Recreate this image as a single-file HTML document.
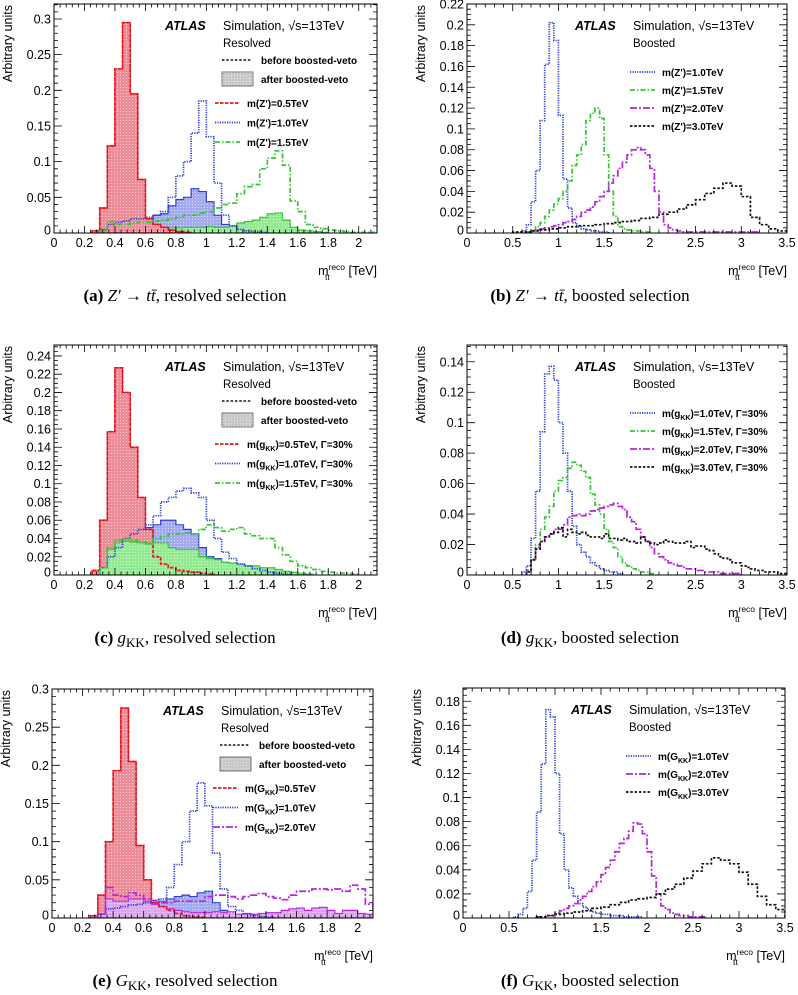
<!DOCTYPE html>
<html><head><meta charset="utf-8"><style>
html,body{margin:0;padding:0;background:#fff;}
svg{display:block;font-family:"Liberation Sans",Arial,sans-serif;}
.cap{font-family:"Liberation Serif",serif;font-size:17px;}
</style></head><body>
<svg id="fig" width="798" height="995" viewBox="0 0 798 995">
<defs>
<pattern id="dots" width="3" height="3" patternUnits="userSpaceOnUse"><rect width="3" height="3" fill="none"/><rect x="0" y="0" width="1" height="1" fill="rgba(255,255,255,0.55)"/></pattern>
</defs>
</svg>
<script>
// ---- data (bin lower edge x0, bin width w, values) ----
// (a) Z' resolved
const aRed = [0.003,0.035,0.122,0.23,0.295,0.195,0.075,0.02,0.012,0.008,0.004,0.002,0.001];
const aBlueBefore = [0.005,0.012,0.015,0.017,0.02,0.02,0.022,0.025,0.03,0.05,0.08,0.1,0.14,0.185,0.135,0.07,0.025,0.01,0.005,0.003,0.002,0.001];
const aBlueAfter = [0.005,0.012,0.014,0.016,0.017,0.018,0.02,0.025,0.027,0.038,0.047,0.05,0.062,0.058,0.044,0.025,0.012,0.005,0.002,0.001];
const aGreenBefore = [0.003,0.016,0.012,0.012,0.014,0.015,0.015,0.017,0.018,0.02,0.022,0.025,0.025,0.028,0.03,0.035,0.04,0.042,0.055,0.065,0.068,0.09,0.105,0.115,0.095,0.045,0.03,0.012,0.008,0.006,0.004,0.003,0.002,0.001,0.001,0.001];
const aGreenAfter = [0.003,0.01,0.008,0.008,0.009,0.01,0.01,0.009,0.008,0.007,0.007,0.008,0.008,0.008,0.009,0.008,0.008,0.01,0.014,0.016,0.018,0.022,0.027,0.028,0.018,0.008,0.004,0.003,0.002,0.001];
// (b) Z' boosted
const bBlue = [0.002,0.008,0.03,0.06,0.108,0.162,0.202,0.185,0.113,0.052,0.024,0.01,0.006,0.004,0.003,0.002,0.002,0.001,0.001];
const bGreen = [0.001,0.003,0.006,0.01,0.016,0.022,0.028,0.033,0.04,0.05,0.065,0.075,0.085,0.108,0.115,0.12,0.11,0.075,0.04,0.016,0.006,0.004,0.003,0.002,0.002,0.001,0.001];
const bMagenta = [0.002,0.003,0.004,0.005,0.006,0.007,0.008,0.01,0.011,0.013,0.016,0.02,0.022,0.025,0.03,0.035,0.04,0.048,0.055,0.062,0.068,0.075,0.08,0.082,0.08,0.075,0.062,0.04,0.02,0.008,0.005,0.003,0.002,0.001,0.001,0.001,0.001,0.001,0.001,0.001,0.001,0.001,0.001,0.001,0.001,0.001,0.001,0.001,0.001,0.001];
const bBlack = [0.001,0.001,0.002,0.003,0.004,0.005,0.006,0.007,0.007,0.008,0.009,0.01,0.011,0.012,0.014,0.015,0.018,0.02,0.023,0.027,0.032,0.038,0.043,0.048,0.045,0.035,0.015,0.008,0.004,0.002];
// (c) gKK resolved
const cRed = [0.005,0.06,0.157,0.227,0.2,0.14,0.085,0.05,0.02,0.012,0.008,0.005,0.004,0.003,0.002,0.001];
const cBlueBefore = [0.008,0.02,0.03,0.04,0.045,0.05,0.055,0.065,0.08,0.085,0.092,0.095,0.09,0.085,0.06,0.04,0.025,0.018,0.012,0.01,0.007,0.005,0.003,0.002,0.001];
const cBlueAfter = [0.008,0.035,0.042,0.043,0.047,0.052,0.052,0.055,0.06,0.06,0.055,0.05,0.045,0.03,0.02,0.018,0.012,0.01,0.008,0.006,0.004,0.003,0.002,0.001];
const cGreenBefore = [0.008,0.03,0.038,0.04,0.038,0.036,0.035,0.04,0.042,0.045,0.045,0.046,0.045,0.05,0.055,0.052,0.048,0.05,0.052,0.045,0.043,0.04,0.04,0.03,0.022,0.015,0.01,0.008,0.006,0.004,0.003,0.002,0.002,0.001];
const cGreenAfter = [0.008,0.028,0.035,0.037,0.036,0.035,0.034,0.035,0.035,0.03,0.028,0.028,0.028,0.02,0.018,0.017,0.014,0.013,0.012,0.01,0.01,0.008,0.008,0.006,0.004,0.003,0.002,0.001];
// (d) gKK boosted
const dBlue = [0.002,0.006,0.024,0.055,0.094,0.132,0.137,0.128,0.1,0.08,0.055,0.032,0.02,0.015,0.012,0.008,0.006,0.004,0.003,0.002,0.002,0.001];
const dGreen = [0.002,0.01,0.02,0.03,0.038,0.045,0.055,0.062,0.064,0.07,0.074,0.072,0.068,0.064,0.053,0.046,0.04,0.03,0.022,0.018,0.012,0.008,0.006,0.004,0.003,0.002,0.002,0.001];
const dMagenta = [0.003,0.01,0.018,0.022,0.025,0.027,0.03,0.03,0.033,0.038,0.039,0.04,0.039,0.04,0.042,0.043,0.044,0.045,0.046,0.047,0.045,0.043,0.038,0.035,0.03,0.025,0.022,0.018,0.014,0.012,0.01,0.008,0.007,0.006,0.005,0.004,0.004,0.003,0.003,0.002,0.002,0.002,0.001,0.001,0.001,0.001,0.001];
const dBlack = [0.002,0.01,0.017,0.022,0.025,0.027,0.028,0.031,0.025,0.03,0.028,0.027,0.028,0.026,0.025,0.025,0.024,0.027,0.024,0.024,0.023,0.024,0.022,0.022,0.021,0.025,0.022,0.021,0.02,0.021,0.023,0.022,0.021,0.021,0.021,0.022,0.018,0.019,0.019,0.017,0.016,0.014,0.012,0.011,0.01,0.008,0.008,0.006,0.005,0.004,0.003,0.003,0.002,0.002,0.002,0.001,0.001];
// (e) GKK resolved
const eRed = [0.003,0.03,0.1,0.193,0.275,0.205,0.095,0.05,0.02,0.015,0.01,0.006,0.003,0.002,0.001];
const eBlueBefore = [0.005,0.012,0.013,0.015,0.017,0.018,0.02,0.022,0.025,0.04,0.07,0.1,0.14,0.177,0.147,0.085,0.038,0.015,0.01,0.005,0.003,0.002,0.001];
const eBlueAfter = [0.005,0.012,0.011,0.013,0.015,0.016,0.018,0.02,0.022,0.025,0.028,0.03,0.028,0.033,0.035,0.02,0.01,0.006,0.004,0.004,0.003,0.003,0.002,0.002,0.002,0.001];
const eMagBefore = [0.005,0.04,0.03,0.028,0.033,0.03,0.025,0.023,0.02,0.02,0.022,0.022,0.022,0.022,0.028,0.03,0.03,0.028,0.025,0.028,0.03,0.032,0.028,0.026,0.024,0.03,0.035,0.035,0.038,0.038,0.037,0.038,0.035,0.043,0.038,0.018,0.012];
const eMagAfter = [0.005,0.025,0.022,0.022,0.025,0.025,0.022,0.018,0.015,0.012,0.01,0.008,0.007,0.007,0.007,0.008,0.007,0.008,0.005,0.006,0.005,0.006,0.007,0.007,0.01,0.012,0.013,0.01,0.013,0.014,0.01,0.006,0.01,0.01,0.006,0.005];
// (f) GKK boosted
const fBlue = [0.001,0.003,0.008,0.022,0.048,0.088,0.128,0.173,0.167,0.12,0.07,0.04,0.025,0.018,0.012,0.009,0.007,0.005,0.004,0.003,0.003,0.002,0.002,0.002,0.001,0.001,0.001,0.001];
const fMagenta = [0.001,0.001,0.002,0.002,0.004,0.006,0.008,0.01,0.012,0.015,0.018,0.022,0.026,0.03,0.036,0.042,0.048,0.055,0.062,0.066,0.072,0.079,0.078,0.07,0.055,0.035,0.02,0.01,0.007,0.004,0.003,0.002,0.002,0.001,0.001,0.001,0.001];
const fBlack = [0.001,0.002,0.003,0.004,0.005,0.006,0.008,0.009,0.011,0.013,0.015,0.016,0.017,0.02,0.024,0.028,0.033,0.039,0.045,0.05,0.048,0.045,0.038,0.028,0.018,0.011,0.007];
const resXTicks = ["0","0.2","0.4","0.6","0.8","1","1.2","1.4","1.6","1.8","2"];
const booXTicks = ["0","0.5","1","1.5","2","2.5","3","3.5"];

const NS="http://www.w3.org/2000/svg";
const svg=document.getElementById('fig');
function mk(tag,attrs,parent){const e=document.createElementNS(NS,tag);for(const k in attrs)e.setAttribute(k,attrs[k]);(parent||svg).appendChild(e);return e;}
function txt(s,attrs,parent){const e=mk('text',attrs,parent);e.textContent=s;return e;}

const RED='#e8161e',BLUE='#2b3fd6',GREEN='#33c633',MAG='#b626dc',BLK='#111';
const DASH={red:'3.5,1.5',blue:'1.2,1.2',green:'5,2,1.5,2',mag:'7,2,2,2',blk:'2.5,1.8'};

// caption segments: [text, style] style: b=bold, i=italic, s=subscript roman, n=normal
const capZa=[['(a)  ','b'],['Z′ → tt̄','i'],[', resolved selection','n']];
const capZb=[['(b)  ','b'],['Z′ → tt̄','i'],[', boosted selection','n']];
const capGc=[['(c)  ','b'],['g','i'],['KK','s'],[', resolved selection','n']];
const capGd=[['(d)  ','b'],['g','i'],['KK','s'],[', boosted selection','n']];
const capGe=[['(e)  ','b'],['G','i'],['KK','s'],[', resolved selection','n']];
const capGf=[['(f)  ','b'],['G','i'],['KK','s'],[', boosted selection','n']];

const panels=[
 {id:'a',L:54,R:377,T:4,B:233,xmax:2.12,ymax:0.321,ystep:0.05,ydec:2,xt:resXTicks,xstep:0.2,xminor:0.04,ymin:0.01,res:true,
  cap:capZa,capx:185,
  legend:[['m(Z\')=0.5TeV','red'],['m(Z\')=1.0TeV','blue'],['m(Z\')=1.5TeV','green']],
  fills:[[aBlueAfter,0.3,0.05,BLUE,'#a3aaf0'],[aGreenAfter,0.3,0.05,GREEN,'#93ea93'],[aRed,0.25,0.05,RED,'#ee8d9a']],
  lines:[[aRed,0.25,0.05,RED,'red'],[aBlueBefore,0.3,0.05,BLUE,'blue'],[aGreenBefore,0.3,0.05,GREEN,'green']]},
 {id:'b',L:467,R:787,T:4,B:233,xmax:3.5,ymax:0.22,ystep:0.02,ydec:2,xt:booXTicks,xstep:0.5,xminor:0.1,ymin:0.005,res:false,
  cap:capZb,capx:590,
  legend:[['m(Z\')=1.0TeV','blue'],['m(Z\')=1.5TeV','green'],['m(Z\')=2.0TeV','mag'],['m(Z\')=3.0TeV','blk']],
  fills:[],
  lines:[[bBlue,0.6,0.05,BLUE,'blue'],[bGreen,0.65,0.05,GREEN,'green'],[bMagenta,0.7,0.05,MAG,'mag'],[bBlack,0.5,0.1,BLK,'blk']]},
 {id:'c',L:54,R:377,T:345,B:575,xmax:2.12,ymax:0.252,ystep:0.02,ydec:2,xt:resXTicks,xstep:0.2,xminor:0.04,ymin:0.005,res:true,
  cap:capGc,capx:185,
  legend:[['m(g','red','KK',')=0.5TeV,  Γ=30%'],['m(g','blue','KK',')=1.0TeV,  Γ=30%'],['m(g','green','KK',')=1.5TeV,  Γ=30%']],
  fills:[[cBlueAfter,0.3,0.05,BLUE,'#a3aaf0'],[cRed,0.25,0.05,RED,'#ee8d9a'],[cGreenAfter,0.3,0.05,GREEN,'#93ea93']],
  lines:[[cRed,0.25,0.05,RED,'red'],[cBlueBefore,0.3,0.05,BLUE,'blue'],[cGreenBefore,0.3,0.05,GREEN,'green']]},
 {id:'d',L:467,R:787,T:345,B:575,xmax:3.5,ymax:0.151,ystep:0.02,ydec:2,xt:booXTicks,xstep:0.5,xminor:0.1,ymin:0.005,res:false,
  cap:capGd,capx:590,
  legend:[['m(g','blue','KK',')=1.0TeV,  Γ=30%'],['m(g','green','KK',')=1.5TeV,  Γ=30%'],['m(g','mag','KK',')=2.0TeV,  Γ=30%'],['m(g','blk','KK',')=3.0TeV,  Γ=30%']],
  fills:[],
  lines:[[dBlue,0.6,0.05,BLUE,'blue'],[dGreen,0.65,0.05,GREEN,'green'],[dMagenta,0.65,0.05,MAG,'mag'],[dBlack,0.65,0.05,BLK,'blk']]},
 {id:'e',L:52,R:373,T:689,B:918,xmax:2.1,ymax:0.3,ystep:0.05,ydec:2,xt:resXTicks,xstep:0.2,xminor:0.04,ymin:0.01,res:true,
  cap:capGe,capx:185,
  legend:[['m(G','red','KK',')=0.5TeV'],['m(G','blue','KK',')=1.0TeV'],['m(G','mag','KK',')=2.0TeV']],
  fills:[[eBlueAfter,0.3,0.05,BLUE,'#a3aaf0'],[eRed,0.25,0.05,RED,'#ee8d9a'],[eMagAfter,0.3,0.05,MAG,'#dca6ee']],
  lines:[[eRed,0.25,0.05,RED,'red'],[eBlueBefore,0.3,0.05,BLUE,'blue'],[eMagBefore,0.3,0.05,MAG,'mag']]},
 {id:'f',L:463,R:785,T:688,B:918,xmax:3.5,ymax:0.191,ystep:0.02,ydec:2,xt:booXTicks,xstep:0.5,xminor:0.1,ymin:0.005,res:false,
  cap:capGf,capx:590,
  legend:[['m(G','blue','KK',')=1.0TeV'],['m(G','mag','KK',')=2.0TeV'],['m(G','blk','KK',')=3.0TeV']],
  fills:[],
  lines:[[fBlue,0.55,0.05,BLUE,'blue'],[fMagenta,0.8,0.05,MAG,'mag'],[fBlack,0.8,0.1,BLK,'blk']]}
];

function histPath(vals,x0,w,X,Y,close){
  let d='M'+X(x0)+','+Y(0);
  vals.forEach((v,i)=>{const xa=X(x0+i*w),xb=X(x0+(i+1)*w),y=Y(v);d+=' L'+xa+','+y+' L'+xb+','+y;});
  const xe=X(x0+vals.length*w);
  d+=' L'+xe+','+Y(0);
  if(close)d+=' Z';
  return d;
}
const dashOf={red:DASH.red,blue:DASH.blue,green:DASH.green,mag:DASH.mag,blk:DASH.blk};
const colOf={red:RED,blue:BLUE,green:GREEN,mag:MAG,blk:BLK};

panels.forEach(p=>{
  const g=mk('g',{});
  
  
  const X=v=>+(p.L+(v/p.xmax)*(p.R-p.L)).toFixed(2);
  const Y=v=>+(p.B-(v/p.ymax)*(p.B-p.T)).toFixed(2);
  const clipId='clip'+p.id;
  const cp=mk('clipPath',{id:clipId},g);mk('rect',{x:p.L,y:p.T,width:p.R-p.L,height:p.B-p.T},cp);
  const plot=mk('g',{'clip-path':'url(#'+clipId+')'},g);
  
  
  p.fills.forEach((f,i)=>{
    const path=mk('path',{d:histPath(f[0],f[1],f[2],X,Y,true),fill:f[4],stroke:f[3],'stroke-width':1.2},plot);
    
    
    mk('path',{d:histPath(f[0],f[1],f[2],X,Y,true),fill:'url(#dots)',stroke:'none'},plot);
  });
  p.lines.forEach((l,i)=>{
    const path=mk('path',{d:histPath(l[0],l[1],l[2],X,Y,false),fill:'none',stroke:l[3],'stroke-width':1.7,'stroke-dasharray':dashOf[l[4]]},plot);
    
    
  });
  const fr=mk('rect',{x:p.L,y:p.T,width:p.R-p.L,height:p.B-p.T,fill:'none',stroke:'#000','stroke-width':1},g);
  
  
  let td='';
  const nx=Math.round(p.xmax/p.xminor);
  for(let i=0;i<=nx;i++){const v=i*p.xminor;if(v>p.xmax+1e-9)break;const x=X(v);const maj=Math.abs(v/p.xstep-Math.round(v/p.xstep))<1e-6;const L=maj?7:3.5;
    td+='M'+x+','+p.B+'v'+(-L)+'M'+x+','+p.T+'v'+L;}
  const ny=Math.round(p.ymax/p.ymin);
  for(let i=0;i<=ny;i++){const v=i*p.ymin;if(v>p.ymax+1e-9)break;const y=Y(v);const maj=Math.abs(v/p.ystep-Math.round(v/p.ystep))<1e-6;const L=maj?8:4;
    td+='M'+p.L+','+y+'h'+L+'M'+p.R+','+y+'h'+(-L);}
  mk('path',{d:td,stroke:'#000','stroke-width':0.8,fill:'none'},g);
  const xl=mk('g',{'font-size':12.5,'text-anchor':'middle',fill:'#000'},g);
  
  
  p.xt.forEach(s=>{txt(s,{x:X(parseFloat(s)),y:p.B+14},xl);});
  const yl=mk('g',{'font-size':12.5,'text-anchor':'end',fill:'#000'},g);
  
  
  const nmaj=Math.floor(p.ymax/p.ystep+1e-6);
  for(let i=0;i<=nmaj;i++){const v=i*p.ystep;let s=i===0?'0':(+v.toFixed(p.ydec)).toString();
    txt(s,{x:p.L-3,y:Y(v)+4.5+(i===0?-3:0)},yl);}
  const yt=txt('Arbitrary units',{x:0,y:0,'font-size':12.5,'text-anchor':'end',transform:'translate('+(p.L-42)+','+(p.T+1)+') rotate(-90)'},g);
  
  
  const xtg=mk('g',{'font-size':12.5},g);
  
  
  const xt=txt('',{x:p.R,y:p.B+42,'text-anchor':'end'},xtg);
  const t1=mk('tspan',{},xt);t1.textContent='m';
  const t2=mk('tspan',{dy:-5,'font-size':8.5},xt);t2.textContent='reco';
  const t3=mk('tspan',{dy:5},xt);t3.textContent=' [TeV]';
  txt('tt',{x:p.R-52,y:p.B+47,'font-size':8.5,'text-anchor':'start'},xtg);
  const lx=p.res?p.L+111:p.L+108;
  const at=txt('ATLAS',{x:lx,y:p.T+26,'font-size':12.5,'font-weight':'bold','font-style':'italic'},g);
  
  
  const sim=txt('Simulation, √s=13TeV',{x:lx+58,y:p.T+26,'font-size':12.5},g);
  
  
  const reg=txt(p.res?'Resolved':'Boosted',{x:lx+58,y:p.T+43,'font-size':11.5},g);
  
  
  const lg=mk('g',{'font-size':10,'font-weight':'bold'},g);
  
  
  let ly, lx0, lstep;
  if(p.res){
    const ry=p.T+56;
    mk('line',{x1:lx+57,x2:lx+87,y1:ry,y2:ry,stroke:BLK,'stroke-width':1.5,'stroke-dasharray':DASH.blk},lg);
    txt('before boosted-veto',{x:lx+96,y:ry+4},lg);
    mk('rect',{x:lx+57,y:ry+12,width:31,height:14,fill:'#c8c8c8',stroke:'#555','stroke-width':0.8},lg);
    mk('rect',{x:lx+57,y:ry+12,width:31,height:14,fill:'url(#dots)'},lg);
    txt('after boosted-veto',{x:lx+96,y:ry+23},lg);
    ly=p.T+99; lx0=lx+50; lstep=19.5;
  } else { ly=p.T+68; lx0=lx+55; lstep=18; }
  p.legend.forEach((e,i)=>{
    const y=ly+i*lstep;
    const ent=mk('g',{},lg);
    
    
    mk('line',{x1:lx0,x2:lx0+25,y1:y,y2:y,stroke:colOf[e[1]],'stroke-width':1.7,'stroke-dasharray':dashOf[e[1]]},ent);
    const t=txt('',{x:lx0+32,y:y+4},ent);
    const a=mk('tspan',{},t);a.textContent=e[0];
    if(e[2]){const b=mk('tspan',{dy:3,'font-size':7},t);b.textContent=e[2];const c=mk('tspan',{dy:-3},t);c.textContent=e[3];}
  });
  const cy=p.B+68;
  const ct=txt('',{x:p.capx,y:cy,'text-anchor':'middle',class:'cap'},g);
  
  
  let sub=false;
  p.cap.forEach(seg=>{
    const a={};
    if(seg[1]==='b')a['font-weight']='bold';
    if(seg[1]==='i')a['font-style']='italic';
    if(seg[1]==='s'){a['dy']=4;a['font-size']=13;sub=true;}
    else if(sub){a['dy']=-4;sub=false;}
    const ts=mk('tspan',a,ct);ts.textContent=seg[0];
  });
});
</script>
</body></html>
